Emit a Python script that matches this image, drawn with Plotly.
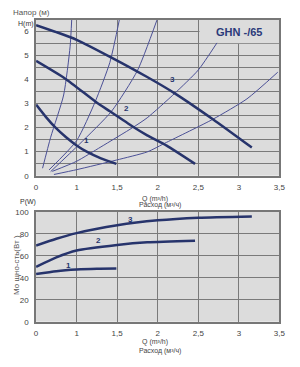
import plotly.graph_objects as go

# x positions are in axis units (tick labels: 0,1,1.5,...,3.5 equally spaced)
x_tickvals = [0.5, 1.0, 1.5, 2.0, 2.5, 3.0, 3.5]
x_ticktext = ["0", "1", "1,5", "2", "2,5", "3", "3,5"]

# Pump head curves H(m)
pump1_q = [0.5, 0.62, 0.74, 0.87, 1.0, 1.13, 1.3, 1.49]
pump1_h = [2.96, 2.45, 2.0, 1.6, 1.26, 0.99, 0.72, 0.49]
pump2_q = [0.5, 0.86, 1.23, 1.41, 1.69, 1.87, 2.11, 2.46]
pump2_h = [4.78, 4.04, 3.09, 2.68, 2.05, 1.68, 1.25, 0.49]
pump3_q = [0.5, 0.75, 1.0, 1.43, 1.87, 2.21, 2.68, 3.16]
pump3_h = [6.27, 5.98, 5.66, 4.92, 4.11, 3.43, 2.35, 1.17]

# System curves
sys1_q = [0.58, 0.68, 0.84, 0.92, 0.94]
sys1_h = [0.31, 1.60, 3.36, 5.39, 6.54]
sys2_q = [0.66, 1.0, 1.23, 1.41, 1.53]
sys2_h = [0.24, 1.46, 3.09, 4.72, 6.54]
sys3_q = [0.68, 1.04, 1.43, 1.75, 1.99]
sys3_h = [0.17, 1.33, 2.68, 4.38, 6.48]
sys4_q = [0.70, 1.0, 1.3, 1.69, 1.87, 2.21, 2.5, 2.73]
sys4_h = [0.18, 0.6, 1.2, 2.0, 2.41, 3.43, 4.4, 5.53]
sys5_q = [0.72, 1.0, 1.49, 1.87, 2.11, 2.68, 3.1, 3.48]
sys5_h = [0.05, 0.25, 0.65, 0.99, 1.39, 2.35, 3.2, 4.31]

# Power curves P(W)
pow1_q = [0.5, 0.75, 1.0, 1.25, 1.49]
pow1_p = [43.3, 46.0, 47.5, 48.2, 48.4]
pow2_q = [0.5, 0.75, 1.0, 1.5, 1.87, 2.46]
pow2_p = [49.9, 58.5, 64.8, 69.8, 72.2, 73.7]
pow3_q = [0.5, 0.75, 1.0, 1.5, 2.0, 2.5, 3.16]
pow3_p = [69.3, 75.5, 80.6, 87.7, 92.2, 94.6, 95.8]

curve_labels = ["1", "2", "3"]
head_label_pos = [(1.12, 1.19), (1.61, 2.52), (2.18, 3.74)]
power_label_pos = [(0.9, 50.8), (1.27, 73.8), (1.67, 93.1)]

NAVY = "#27346c"
SYS = "#4b5096"
BG = "#dcdcdc"
GRID = "#7a7a7a"
FRAME = "#777777"
TXT = "#444444"
FONT = "Liberation Sans"

fig = go.Figure()

for q, h in [(sys1_q, sys1_h), (sys2_q, sys2_h), (sys3_q, sys3_h), (sys4_q, sys4_h), (sys5_q, sys5_h)]:
    fig.add_trace(go.Scatter(x=q, y=h, mode="lines", line=dict(color=SYS, width=1, shape="spline", smoothing=0.6),
                             xaxis="x", yaxis="y", hoverinfo="skip"))
for q, h in [(pump1_q, pump1_h), (pump2_q, pump2_h), (pump3_q, pump3_h)]:
    fig.add_trace(go.Scatter(x=q, y=h, mode="lines", line=dict(color=NAVY, width=2.5, shape="spline", smoothing=0.6),
                             xaxis="x", yaxis="y", hoverinfo="skip"))
for q, p in [(pow1_q, pow1_p), (pow2_q, pow2_p), (pow3_q, pow3_p)]:
    fig.add_trace(go.Scatter(x=q, y=p, mode="lines", line=dict(color=NAVY, width=2.5, shape="spline", smoothing=0.6),
                             xaxis="x2", yaxis="y2", hoverinfo="skip"))

ann = []
for t, (x, y) in zip(curve_labels, head_label_pos):
    ann.append(dict(x=x, y=y, xref="x", yref="y", text="<b>%s</b>" % t, showarrow=False,
                    font=dict(size=8, color=NAVY, family=FONT), xanchor="center", yanchor="bottom"))
for t, (x, y) in zip(curve_labels, power_label_pos):
    ann.append(dict(x=x, y=y, xref="x2", yref="y2", text="<b>%s</b>" % t, showarrow=False,
                    font=dict(size=8, color=NAVY, family=FONT), xanchor="center", yanchor="middle"))

W, H = 300, 367
def px(x):
    return x / W
def py(y):
    return 1 - y / H

def txt(x, y, s, size=8, color=TXT, xa="center", angle=0):
    ann.append(dict(x=px(x), y=py(y), xref="paper", yref="paper", text=s, showarrow=False,
                    font=dict(size=size, color=color, family=FONT), xanchor=xa, yanchor="middle", textangle=angle))

txt(9, 9, "Напор (м)", 8, "#555555", "left")
txt(25, 20, "H(m)", 7, "#333333")
txt(157, 199.5, "Q (m³/h)", 7)
txt(162.7, 206.5, "Расход (м³/ч)", 7)
txt(157, 346.5, "Q (m³/h)", 7)
txt(162.7, 355.5, "Расход (м³/ч)", 7)
txt(27, 203, "P(W)", 7, "#333333")
txt(15, 268, "Мо щно-сть(Вт )", 8, "#555555", angle=-90)
ann.append(dict(x=px(243), y=py(29), xref="paper", yref="paper", text="<b>GHN -/65</b>", showarrow=False,
                font=dict(size=11, color="#2b3a7a", family=FONT), xanchor="center", yanchor="middle"))

common_x = dict(range=[0.5, 3.5], tickvals=x_tickvals, ticktext=x_ticktext, showgrid=True, gridcolor=GRID,
                gridwidth=1, zeroline=False, showline=True, linecolor=FRAME, linewidth=1.5, mirror=True,
                ticks="outside", ticklen=3, tickcolor="rgba(0,0,0,0)",
                tickfont=dict(size=8, color=TXT, family=FONT), domain=[35 / W, 285 / W])

head_ticks = [i * 0.5 for i in range(14)]
head_text = [str(int(v)) if v == int(v) else "" for v in head_ticks]
head_text[-1] = ""

fig.update_layout(
    width=W, height=H, margin=dict(l=0, r=0, t=0, b=0),
    paper_bgcolor="white", plot_bgcolor=BG, showlegend=False,
    xaxis=dict(common_x, anchor="y"),
    yaxis=dict(range=[0, 6.5], tickvals=head_ticks, ticktext=head_text, showgrid=True, gridcolor=GRID,
               zeroline=False, showline=True, linecolor=FRAME, linewidth=1.5, mirror=True,
               ticks="outside", ticklen=4, tickcolor="rgba(0,0,0,0)",
               tickfont=dict(size=8, color=TXT, family=FONT), domain=[py(176), py(16)], anchor="x"),
    xaxis2=dict(common_x, anchor="y2"),
    yaxis2=dict(range=[0, 100], tickvals=[0, 20, 40, 60, 80, 100], showgrid=True, gridcolor=GRID,
                zeroline=False, showline=True, linecolor=FRAME, linewidth=1.5, mirror=True,
                ticks="outside", ticklen=4, tickcolor="rgba(0,0,0,0)",
                tickfont=dict(size=8, color=TXT, family=FONT), domain=[py(325.7), py(213)], anchor="x2"),
    annotations=ann,
    shapes=[dict(type="rect", xref="x", yref="y", x0=2.515, x1=3.5, y0=5.52, y1=6.5,
                 fillcolor=BG, line=dict(width=0), layer="between")],
)

fig.write_html("out.html")
